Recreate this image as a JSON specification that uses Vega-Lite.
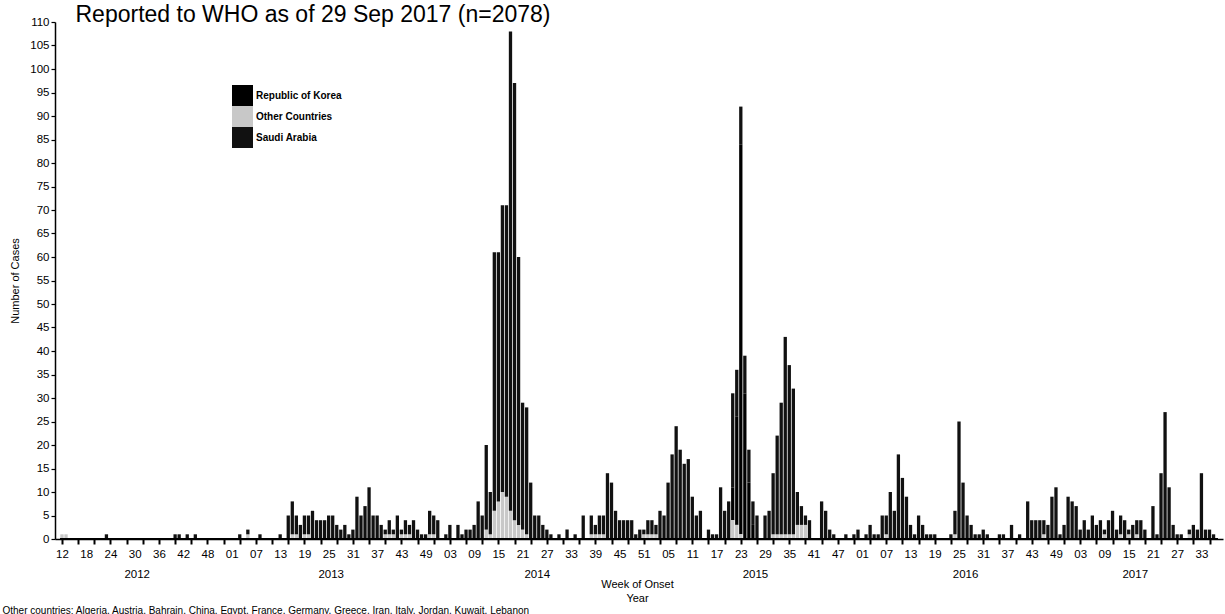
{
  "$schema": "https://vega.github.io/schema/vega-lite/v6.json",
  "autosize": {"type": "none"},
  "width": 1168,
  "height": 517,
  "padding": {"left": 55, "top": 22, "right": 2, "bottom": 75},
  "background": "white",
  "config": {
    "view": {"stroke": null},
    "font": "Liberation Sans",
    "axis": {"labelFont": "Liberation Sans", "titleFont": "Liberation Sans", "labelColor": "black", "titleColor": "black", "domainColor": "black", "tickColor": "black", "grid": false}
  },
  "data": {"values": [
    {"i":0,"OC":1},{"i":1,"OC":1},{"i":11,"SA":1},{"i":28,"SA":1},{"i":29,"SA":1},{"i":31,"SA":1},{"i":33,"SA":1},
    {"i":44,"SA":1},{"i":46,"SA":1,"OC":1},{"i":49,"SA":1},{"i":54,"SA":1},
    {"i":56,"SA":5},{"i":57,"SA":7,"OC":1},{"i":58,"SA":4,"OC":1},{"i":59,"SA":3},{"i":60,"SA":4,"OC":1},{"i":61,"SA":4,"OC":1},
    {"i":62,"SA":6},{"i":63,"SA":4},{"i":64,"SA":4},{"i":65,"SA":4},{"i":66,"SA":5},{"i":67,"SA":5},{"i":68,"SA":3},{"i":69,"SA":2},
    {"i":70,"SA":3},{"i":71,"SA":1},{"i":72,"SA":2},{"i":73,"SA":9},{"i":74,"SA":5},{"i":75,"SA":7},{"i":76,"SA":11},{"i":77,"SA":5},
    {"i":78,"SA":5},{"i":79,"SA":3},{"i":80,"SA":1,"OC":1},{"i":81,"SA":3,"OC":1},{"i":82,"SA":1,"OC":1},{"i":83,"SA":5},
    {"i":84,"SA":1,"OC":1},{"i":85,"SA":3,"OC":1},{"i":86,"SA":2,"OC":1},{"i":87,"SA":4},{"i":88,"SA":2},{"i":89,"SA":1},{"i":90,"SA":1},
    {"i":91,"SA":5,"OC":1},{"i":92,"SA":4,"OC":1},{"i":93,"SA":4},
    {"i":95,"SA":1},{"i":96,"SA":3},{"i":98,"SA":3},{"i":99,"SA":1},{"i":100,"SA":2},{"i":101,"SA":2},{"i":102,"SA":3},{"i":103,"SA":8},
    {"i":104,"SA":5},{"i":105,"SA":18,"OC":2},{"i":106,"SA":9,"OC":1},{"i":107,"SA":55,"OC":6},{"i":108,"SA":53,"OC":8},
    {"i":109,"SA":61,"OC":10},{"i":110,"SA":62,"OC":9},{"i":111,"SA":102,"OC":6},{"i":112,"SA":93,"OC":4},{"i":113,"SA":57,"OC":3},
    {"i":114,"SA":27,"OC":2},{"i":115,"SA":27,"OC":1},{"i":116,"SA":12},{"i":117,"SA":5},{"i":118,"SA":5},{"i":119,"SA":3},
    {"i":120,"SA":2},{"i":121,"SA":1},{"i":123,"SA":1},{"i":125,"SA":2},{"i":127,"SA":1},{"i":129,"SA":5},
    {"i":131,"SA":4,"OC":1},{"i":132,"SA":2,"OC":1},{"i":133,"SA":4,"OC":1},{"i":134,"SA":4,"OC":1},{"i":135,"SA":14},{"i":136,"SA":12},
    {"i":137,"SA":6},{"i":138,"SA":4},{"i":139,"SA":4},{"i":140,"SA":4},{"i":141,"SA":4},{"i":142,"SA":1},{"i":143,"SA":2},
    {"i":144,"SA":1,"OC":1},{"i":145,"SA":3,"OC":1},
    {"i":146,"SA":3,"OC":1},{"i":147,"SA":2,"OC":1},{"i":148,"SA":6},{"i":149,"SA":5},{"i":150,"SA":12},{"i":151,"SA":18},
    {"i":152,"SA":24},{"i":153,"SA":19},{"i":154,"SA":16},{"i":155,"SA":17},{"i":156,"SA":9},{"i":157,"SA":5},{"i":158,"SA":6},
    {"i":160,"SA":2},{"i":161,"SA":1},{"i":162,"SA":1},{"i":163,"SA":11},{"i":164,"SA":6},{"i":165,"SA":8},
    {"i":166,"SA":20,"OC":4,"ROK":7},{"i":167,"SA":10,"OC":3,"ROK":23},{"i":168,"SA":8,"OC":1,"ROK":83},{"i":169,"SA":8,"ROK":31},
    {"i":170,"SA":7,"ROK":12},{"i":171,"SA":5,"ROK":3},{"i":172,"SA":5},
    {"i":174,"SA":5},{"i":175,"SA":6},{"i":176,"SA":13,"OC":1},{"i":177,"SA":21,"OC":1},{"i":178,"SA":28,"OC":1},{"i":179,"SA":42,"OC":1},
    {"i":180,"SA":36,"OC":1},{"i":181,"SA":31,"OC":1},{"i":182,"SA":7,"OC":3},{"i":183,"SA":4,"OC":3},{"i":184,"SA":2,"OC":3},{"i":185,"SA":4},
    {"i":188,"SA":8},{"i":189,"SA":6},{"i":190,"SA":2},{"i":191,"SA":1},{"i":194,"SA":1},{"i":196,"SA":1},{"i":197,"SA":2},
    {"i":199,"SA":1},{"i":200,"SA":3},{"i":201,"SA":1},{"i":202,"SA":1},{"i":203,"SA":5},{"i":204,"SA":4,"OC":1},{"i":205,"SA":10},
    {"i":206,"SA":6},{"i":207,"SA":18},{"i":208,"SA":13},{"i":209,"SA":9},{"i":210,"SA":3},{"i":211,"SA":1},{"i":212,"SA":5},{"i":213,"SA":3},
    {"i":214,"SA":1},{"i":215,"SA":1},{"i":216,"SA":1},{"i":220,"SA":1},{"i":221,"SA":5,"OC":1},{"i":222,"SA":25},{"i":223,"SA":12},
    {"i":224,"SA":5},{"i":225,"SA":3},{"i":226,"SA":1},{"i":227,"SA":1},{"i":228,"SA":2},{"i":229,"SA":1},{"i":232,"SA":1},{"i":233,"SA":1},
    {"i":235,"SA":3},{"i":237,"SA":1},{"i":239,"SA":8},{"i":240,"SA":4},{"i":241,"SA":4},{"i":242,"SA":4},{"i":243,"SA":3,"OC":1},
    {"i":244,"SA":3},{"i":245,"SA":9},{"i":246,"SA":11},{"i":247,"SA":1},{"i":248,"SA":3},{"i":249,"SA":9},
    {"i":250,"SA":8},{"i":251,"SA":7},{"i":252,"SA":2},{"i":253,"SA":4},{"i":254,"SA":2},{"i":255,"SA":5},{"i":256,"SA":3},{"i":257,"SA":4},
    {"i":258,"SA":1,"OC":1},{"i":259,"SA":4},{"i":260,"SA":6},{"i":261,"SA":2},{"i":262,"SA":4,"OC":1},{"i":263,"SA":4},{"i":264,"SA":1,"OC":1},
    {"i":265,"SA":3},{"i":266,"SA":3,"OC":1},{"i":267,"SA":4},{"i":268,"SA":2},{"i":270,"SA":7},{"i":271,"SA":1},{"i":272,"SA":14},
    {"i":273,"SA":27},{"i":274,"SA":11},{"i":275,"SA":3},{"i":276,"SA":1},{"i":277,"SA":1},{"i":279,"SA":1,"OC":1},{"i":280,"SA":3},
    {"i":281,"SA":2},{"i":282,"SA":14},{"i":283,"SA":2},{"i":284,"SA":2},{"i":285,"SA":1}
  ]},
  "resolve": {"axis": {"x": "independent", "y": "independent"}},
  "layer": [
    {
      "transform": [
        {"fold": ["ROK", "OC", "SA"], "as": ["country", "n"]},
        {"filter": "datum.n > 0"}
      ],
      "mark": {"type": "bar", "width": 3.3},
      "encoding": {
        "x": {
          "field": "i", "type": "quantitative",
          "scale": {"domain": [-0.49, 286.1], "nice": false, "zero": false},
          "axis": {
            "orient": "bottom",
            "values": [0,2,4,6,8,10,12,14,16,18,20,22,24,26,28,30,32,34,36,38,40,42,44,46,48,50,52,54,56,58,60,62,64,66,68,70,72,74,76,78,80,82,84,86,88,90,92,94,96,98,100,102,104,106,108,110,112,114,116,118,120,122,124,126,128,130,132,134,136,138,140,142,144,146,148,150,152,154,156,158,160,162,164,166,168,170,172,174,176,178,180,182,184,186,188,190,192,194,196,198,200,202,204,206,208,210,212,214,216,218,220,222,224,226,228,230,232,234,236,238,240,242,244,246,248,250,252,254,256,258,260,262,264,266,268,270,272,274,276,278,280,282,284,18.5,66.5,117.5,171.5,223.5,265.5],
            "labelExpr": "datum.value % 1 != 0 ? (datum.value < 40 ? '2012' : datum.value < 90 ? '2013' : datum.value < 140 ? '2014' : datum.value < 200 ? '2015' : datum.value < 250 ? '2016' : '2017') : (datum.value % 6 == 0 ? ['12','18','24','30','36','42','48','01','07','13','19','25','31','37','43','49','03','09','15','21','27','33','39','45','51','05','11','17','23','29','35','41','47','01','07','13','19','25','31','37','43','49','03','09','15','21','27','33'][datum.value / 6] : '')",
            "tickOpacity": {"condition": {"test": "datum.value % 4 == 0", "value": 1}, "value": 0},
            "labelPadding": {"condition": {"test": "datum.value % 1 != 0", "value": 24}, "value": 4},
            "tickSize": 5, "tickWidth": 2, "domainWidth": 1.5,
            "labelFontSize": 11.5, "labelOverlap": false, "labelFlush": false, "labelBound": false,
            "title": ["Week of Onset", "Year"],
            "titleFontSize": 11, "titleFontWeight": "normal", "titleLineHeight": 14,
            "titleX": 582, "titleY": 39, "titleAlign": "center", "titleBaseline": "top", "titleAnchor": "middle"
          }
        },
        "y": {
          "field": "n", "type": "quantitative",
          "scale": {"domain": [0, 110], "nice": false},
          "axis": {
            "orient": "left",
            "values": [0,5,10,15,20,25,30,35,40,45,50,55,60,65,70,75,80,85,90,95,100,105,110],
            "title": "Number of Cases", "titleFontSize": 11, "titleFontWeight": "normal", "titlePadding": 9,
            "labelFontSize": 11.5, "labelPadding": 2, "tickSize": 4, "tickWidth": 1.2, "domainWidth": 1.5
          }
        },
        "color": {
          "field": "country", "type": "nominal",
          "scale": {"domain": ["ROK", "OC", "SA"], "range": ["#000000", "#c8c8c8", "#111111"]},
          "legend": {
            "orient": "none", "legendX": 177, "legendY": 63, "title": null, "padding": 0,
            "symbolType": "square", "symbolSize": 441, "symbolStrokeWidth": 0, "rowPadding": 0,
            "labelFont": "Liberation Sans", "labelFontSize": 10, "labelFontWeight": "bold", "labelColor": "black", "labelOffset": 3,
            "labelExpr": "{'ROK': 'Republic of Korea', 'OC': 'Other Countries', 'SA': 'Saudi Arabia'}[datum.label]"
          }
        },
        "order": {"field": "country", "type": "nominal", "sort": "ascending"}
      }
    },
    {
      "mark": {"type": "rule", "color": "black", "strokeWidth": 1.5},
      "encoding": {
        "y": {
          "datum": 0, "type": "quantitative",
          "scale": {"domain": [0, 110], "nice": false},
          "axis": {
            "orient": "left", "domain": false, "ticks": false, "labels": false,
            "title": "Reported to WHO as of 29 Sep 2017 (n=2078)",
            "titleFontSize": 23, "titleFontWeight": "normal", "titleAngle": 0,
            "titleX": 20, "titleY": -1, "titleAlign": "left", "titleBaseline": "alphabetic", "titleAnchor": "start"
          }
        },
        "x": {
          "datum": -0.49, "type": "quantitative",
          "scale": {"domain": [-0.49, 286.1], "nice": false, "zero": false},
          "axis": {
            "orient": "bottom", "domain": false, "ticks": false, "labels": false,
            "title": "Other countries: Algeria, Austria, Bahrain, China, Egypt, France, Germany, Greece, Iran, Italy, Jordan, Kuwait, Lebanon",
            "titleFontSize": 10, "titleFontWeight": "normal", "titleX": -53, "titleY": 66,
            "titleAlign": "left", "titleAnchor": "start", "titleBaseline": "top"
          }
        },
        "x2": {"datum": 286.1}
      }
    }
  ]
}
